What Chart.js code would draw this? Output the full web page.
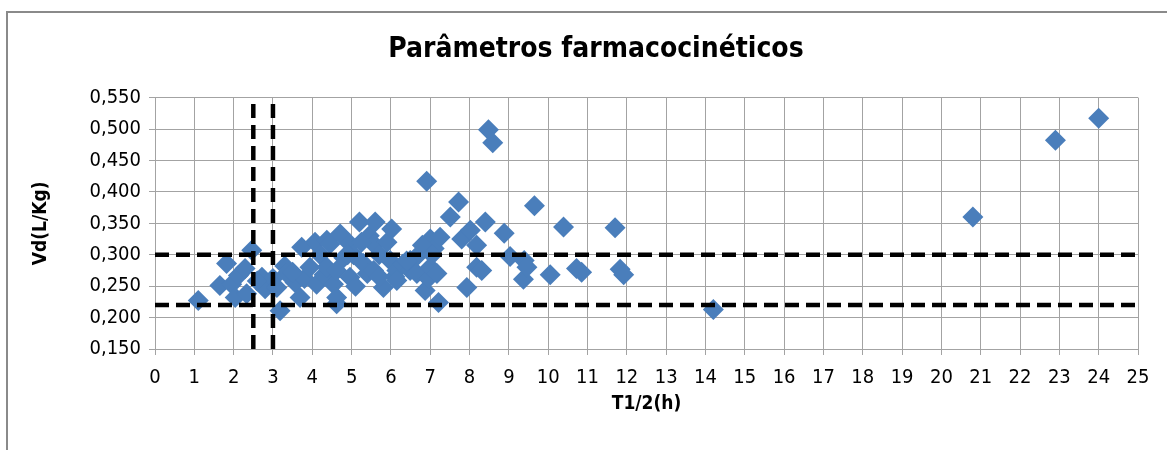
<!DOCTYPE html>
<html>
<head>
<meta charset="utf-8">
<title>Parâmetros farmacocinéticos</title>
<script src="https://cdn.jsdelivr.net/npm/chart.js@4/dist/chart.umd.min.js"></script>
<style>
    html, body { margin: 0; padding: 0; background: #ffffff; overflow: hidden; }
    #frame {
        position: absolute; left: 6px; top: 11px; width: 1250px; height: 500px;
        border-left: 2px solid #8a8a8a; border-top: 2px solid #8a8a8a;
    }
    #wrap { position: absolute; left: 0; top: 0; width: 1192px; height: 450px; }
</style>
</head>
<body>
<div id="frame"></div>
<div id="wrap"><canvas id="chart"></canvas></div>
<script>
// T1/2 (h) and Vd (L/Kg) of each patient
const halfLife = [
    1.10, 1.65, 1.82, 1.95, 2.04, 2.12, 2.29, 2.33, 2.46, 2.72,
    2.80, 3.00, 3.18, 3.30, 3.35, 3.56, 3.69, 3.73, 3.80, 3.94,
    4.07, 4.11, 4.20, 4.30, 4.37, 4.37, 4.45, 4.54, 4.62, 4.62,
    4.62, 4.71, 4.80, 4.96, 4.96, 5.05, 5.10, 5.20, 5.30, 5.40,
    5.45, 5.56, 5.56, 5.60, 5.70, 5.81, 5.90, 5.98, 6.02, 6.10,
    6.15, 6.15, 6.30, 6.49, 6.49, 6.66, 6.70, 6.87, 6.91, 6.95,
    7.00, 7.00, 7.10, 7.17, 7.21, 7.25, 7.51, 7.72, 7.80, 7.93,
    8.02, 8.18, 8.18, 8.31, 8.40, 8.48, 8.59, 8.88, 9.03, 9.37,
    9.39, 9.46, 9.65, 10.05, 10.39, 10.72, 10.85, 11.70, 11.83, 11.92,
    14.20, 20.80, 22.90, 24.00,
    2.60, 3.10, 3.50, 4.90, 5.25, 5.70, 6.40, 6.80, 7.05
];
const volume = [
    0.227, 0.251, 0.286, 0.253, 0.232, 0.267, 0.278, 0.238, 0.307, 0.264,
    0.246, 0.262, 0.211, 0.282, 0.270, 0.256, 0.232, 0.312, 0.262, 0.280,
    0.320, 0.253, 0.300, 0.268, 0.323, 0.280, 0.317, 0.253, 0.222, 0.232,
    0.275, 0.333, 0.295, 0.264, 0.317, 0.300, 0.250, 0.352, 0.286, 0.270,
    0.330, 0.275, 0.317, 0.352, 0.300, 0.248, 0.320, 0.291, 0.341, 0.265,
    0.275, 0.259, 0.285, 0.275, 0.291, 0.270, 0.300, 0.243, 0.417, 0.262,
    0.280, 0.325, 0.310, 0.270, 0.224, 0.328, 0.360, 0.384, 0.325, 0.248,
    0.339, 0.315, 0.280, 0.275, 0.352, 0.499, 0.478, 0.334, 0.297, 0.261,
    0.291, 0.280, 0.378, 0.268, 0.344, 0.278, 0.272, 0.343, 0.277, 0.268,
    0.213, 0.360, 0.482, 0.517,
    0.258, 0.248, 0.272, 0.300, 0.320, 0.265, 0.290, 0.315, 0.300
];

// reference lines (dashed)
const limitsT = [2.5, 3];
const limitsVd = [0.22, 0.30];

// axis ranges
const xMin = 0, xMax = 25, xStep = 1;
const yMin = 0.15, yMax = 0.55, yStep = 0.05;

const FONT = "'DejaVu Sans Condensed', 'Liberation Sans', sans-serif";
const GRID = '#a3a3a3';

const points = halfLife.map((t, i) => ({ x: t, y: volume[i] }));

const dashStyle = {
    type: 'line',
    borderColor: '#000000',
    borderWidth: 4.5,
    borderDash: [14, 7],
    pointRadius: 0,
    fill: false,
    order: 0
};

const datasets = [];
limitsT.forEach(t => {
    datasets.push(Object.assign({ data: [{ x: t, y: yMin }, { x: t, y: yMax }] }, dashStyle));
});
limitsVd.forEach(v => {
    datasets.push(Object.assign({ data: [{ x: xMin, y: v }, { x: xMax, y: v }] }, dashStyle));
});
datasets.push({
    type: 'scatter',
    label: 'Vd',
    data: points,
    pointStyle: 'rectRot',
    pointRadius: 10.5,
    backgroundColor: '#4a7ebb',
    borderColor: '#4a7ebb',
    borderWidth: 0,
    order: 1
});

new Chart(document.getElementById('chart'), {
    type: 'scatter',
    data: { datasets: datasets },
    options: {
        responsive: true,
        maintainAspectRatio: false,
        animation: false,
        layout: { padding: { left: 0, right: 0, top: 0, bottom: 20 } },
        plugins: {
            legend: { display: false },
            tooltip: { enabled: false },
            title: {
                display: true,
                text: 'Parâmetros farmacocinéticos',
                color: '#000000',
                font: { family: FONT, size: 28, weight: 'bold' },
                padding: { top: 33, bottom: 31 }
            }
        },
        scales: {
            x: {
                type: 'linear',
                min: xMin,
                max: xMax,
                grid: { color: GRID, tickLength: 6, tickColor: GRID },
                border: { color: GRID },
                ticks: {
                    stepSize: xStep,
                    color: '#000000',
                    padding: 11,
                    maxRotation: 0,
                    font: { family: FONT, size: 20 }
                },
                title: {
                    display: true,
                    text: 'T1/2(h)',
                    color: '#000000',
                    font: { family: FONT, size: 19, weight: 'bold' },
                    padding: { top: 0, bottom: 15 }
                },
                afterFit: s => { s.height = 81; }
            },
            y: {
                type: 'linear',
                min: yMin,
                max: yMax,
                grid: { color: GRID, tickLength: 6, tickColor: GRID },
                border: { color: GRID },
                ticks: {
                    stepSize: yStep,
                    color: '#000000',
                    padding: 8,
                    font: { family: FONT, size: 20 },
                    callback: v => v.toFixed(3).replace('.', ',')
                },
                title: {
                    display: true,
                    text: 'Vd(L/Kg)',
                    color: '#000000',
                    font: { family: FONT, size: 19, weight: 'bold' },
                    padding: { top: 30, bottom: 0 }
                },
                afterFit: s => { s.width = 155; }
            },
            // empty box on the right so the title is centred on the whole frame
            yRight: {
                type: 'linear',
                position: 'right',
                min: yMin,
                max: yMax,
                grid: { display: false, drawTicks: false },
                border: { display: false },
                ticks: { display: false },
                afterFit: s => { s.width = 54; }
            }
        }
    }
});
</script>
</body>
</html>
